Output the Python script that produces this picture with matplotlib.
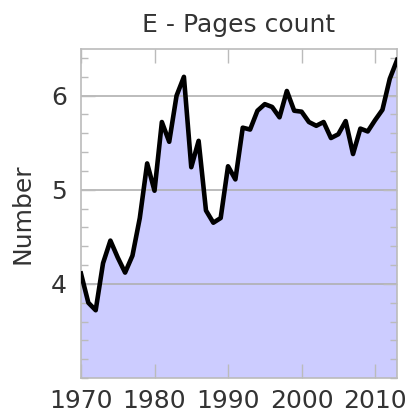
import matplotlib
matplotlib.use("Agg")
import matplotlib.pyplot as plt
from matplotlib.ticker import MultipleLocator

years = list(range(1970, 2014))
pages = [
    4.11, 3.80, 3.72, 4.22, 4.46, 4.28, 4.12, 4.30, 4.70, 5.28,
    4.99, 5.72, 5.51, 6.00, 6.20, 5.24, 5.52, 4.78, 4.65, 4.70,
    5.25, 5.11, 5.66, 5.64, 5.84, 5.91, 5.88, 5.77, 6.05, 5.84,
    5.83, 5.72, 5.68, 5.72, 5.55, 5.59, 5.73, 5.38, 5.65, 5.62,
    5.74, 5.85, 6.18, 6.38,
]
xticks = [1970, 1980, 1990, 2000, 2010]
yticks = [4, 5, 6]

text_color = "#333333"
edge = "#bbbbbb"

fig = plt.figure(figsize=(4.09, 4.18), dpi=100)
ax = fig.add_axes([0.198, 0.0957, 0.773, 0.788])

ax.fill_between(years, pages, 0, color="#ccccff", lw=0, zorder=1)
ax.plot(years, pages, color="black", lw=3.3, zorder=3)

ax.set_xlim(1970, 2013)
ax.set_ylim(3, 6.5)
ax.set_xticks(xticks)
ax.set_yticks(yticks)
ax.yaxis.set_minor_locator(MultipleLocator(0.2))
ax.grid(axis="y", which="major", color="#b0b0b0", lw=1.2, zorder=2)

for s in ax.spines.values():
    s.set_color(edge)
    s.set_linewidth(1.2)
ax.tick_params(which="both", direction="in", top=True, right=True, colors=edge,
               labelcolor=text_color, labelsize=18)
ax.tick_params(which="major", length=10, width=1)
ax.tick_params(which="minor", length=5, width=1)
ax.tick_params(axis="x", pad=8)
ax.tick_params(axis="y", pad=10)

ax.set_ylabel("Number", fontsize=18, color=text_color, labelpad=12)
ax.set_title("E - Pages count", fontsize=18, color=text_color, pad=12)

fig.savefig("out.png", dpi=100)
